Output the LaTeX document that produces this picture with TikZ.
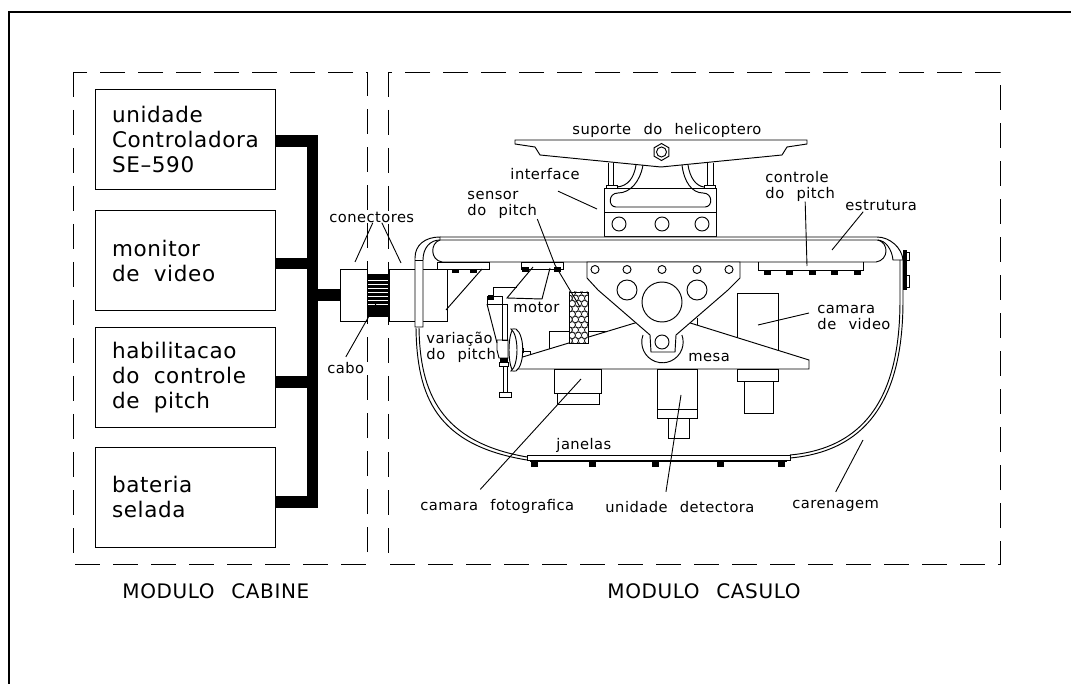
\documentclass[tikz,border=0pt]{standalone}
\usepackage{fontspec}
\setmainfont[WordSpace=1.2,LetterSpace=3]{DejaVu Sans}
\usetikzlibrary{arrows.meta, positioning, shapes.geometric, calc}

\begin{document}
\begin{tikzpicture}[
        x=1pt, y=-1pt,
        line width=0.95pt,
        node distance=21pt and 20pt,
        box/.style={draw, line width=0.8pt, minimum height=100pt, inner xsep=17pt, inner ysep=0pt, text width=146pt,
                    align=left, font=\fontsize{21.5}{25}\selectfont},
        conn/.style={draw, fill=white, minimum height=52pt, inner sep=0pt},
        lbl/.style={inner sep=0pt, anchor=west, align=left, font=\fontsize{14.7}{16}\selectfont},
        title/.style={inner sep=0pt, anchor=west, font=\fontsize{20}{23}\selectfont},
        module/.style={line width=0.75pt, dash pattern=on 25pt off 13pt},
        bus/.style={line width=11.5pt, miter limit=10},
        leader/.style={line width=0.9pt},
        part/.style={draw, fill=white},
        bolt/.style={draw, fill=black}
    ]
        \useasboundingbox (0,0) rectangle (1071,684);
        \draw[line width=2pt] (9,684) -- (9,12) -- (1071,12);

        % modules
        \draw[module] (73,72) rectangle (367,564);
        \draw[module] (388,72) rectangle (1000,564);

        % cabin units
        \node[box] (unidade) at (185,139) {unidade\\Controladora\\SE--590};
        \node[box] (monitor) [below=of unidade] {monitor\\de\ \ video};
        \node[box] (habilita) [below=16pt of monitor] {habilitacao\\do\ \ controle\\de\ \ pitch};
        \node[box] (bateria) [below=19pt of habilita] {bateria\\selada};

        % connectors and cable
        \node[conn, minimum width=27pt] (connL) at (353.5,295) {};
        \node[draw, fill=black, minimum width=21pt, minimum height=42pt, inner sep=0pt] (cable) [right=0pt of connL] {};
        \node[conn, minimum width=58pt] (connR) [right=0pt of cable] {};
        \foreach \y in {280,284,...,304}
            \draw[white, line width=0.4pt] (368,\y) -- (388,\y);

        \coordinate (busTop) at (312.5,141);
        \coordinate (busBot) at (312.5,502.5);
        \draw[bus] ([yshift=-2pt]unidade.east) -- (busTop) -- ([yshift=-4.5pt]bateria.east -| busTop) -- ([yshift=-4.5pt]bateria.east);
        \draw[bus] ([yshift=-2.5pt]monitor.east) -- ([yshift=-2.5pt]monitor.east -| busTop);
        \draw[bus] ([yshift=-4.5pt]habilita.east) -- ([yshift=-4.5pt]habilita.east -| busTop);
        \draw[bus] (busTop |- connL) -- (connL.west);

        % helicopter mount
        \draw (515,140) -- (807,140) -- (807,144) -- (787,147) -- (782,155) -- (661,167)
            -- (540,155) -- (535,147) -- (515,144) -- cycle;
        \node[draw, regular polygon, regular polygon sides=6, shape border rotate=30, minimum size=17pt, inner sep=0pt] (nut) at (661.5,152) {};
        \draw (nut.center) circle[radius=5];
        \draw (608,163) -- (608,186) (613,163) -- (613,186) (707,163) -- (707,186) (713,163) -- (713,186);
        \draw (606,185) rectangle (617,188);
        \draw (704,185) rectangle (715,188);
        \draw (604,188) rectangle (716,212);
        \draw (604,212) rectangle (716,236);
        \draw (636,165) .. controls (634,178) and (628,186) .. (617,187);
        \draw (688,165) .. controls (690,178) and (696,186) .. (704,187);
        \draw (643,165) .. controls (640,182) and (630,193) .. (618,193) .. controls (608,193) and (608,207) .. (616,207)
            -- (705,207) .. controls (713,207) and (713,193) .. (703,193) .. controls (692,193) and (684,182) .. (682,165);
        \foreach \x in {619,662,702}
            \draw (\x,224) circle[radius=7];

        % structure and fairing
        \draw[fill=white] (440,237) -- (877,237) .. controls (890,237) and (902,248) .. (903,260) -- (893,260)
            .. controls (892,250) and (886,240) .. (877,240) -- (440,240);
        \draw (878,240) .. controls (889,243) and (889,260) .. (876,262) -- (442,262)
            .. controls (430,260) and (430,243) .. (440,240);
        \draw (903,260) -- (903,300) .. controls (903,380) and (880,450) .. (790,458);
        \draw (900,260) -- (900,300) .. controls (900,378) and (878,447) .. (790,455);
        \draw (416,328) .. controls (417,395) and (435,445) .. (527,460);
        \draw (419,328) .. controls (420,392) and (440,442) .. (527,457);
        \draw[fill=white] (415,327) -- (415,258) .. controls (415,245) and (425,237) .. (440,237) -- (440,240)
            .. controls (430,240) and (423,248) .. (423,260) -- (423,327) -- cycle;
        \draw (415,260) -- (423,260);
        \draw[fill=black] (903,250) rectangle (906.5,289);
        \draw (906.5,252) rectangle (909,260) (906.5,275) rectangle (909,287);

        % plates and bolts
        \draw (437,262) rectangle (489,269);
        \draw (521,262) rectangle (563,269);
        \draw (758,262) -- (758,270) -- (863,270) -- (863,262);
        \foreach \x in {455,473.5}
            \draw[bolt] (\x-3,269) rectangle (\x+3,272.5);
        \foreach \x in {525.5,557.5}
            \draw[bolt] (\x-3,267) rectangle (\x+3,271);
        \foreach \x in {767,789,812,834,857}
            \draw[bolt] (\x-3,270) rectangle (\x+3,274);
        \draw (482,269) -- (446,310);

        % pitch mechanism
        \draw (533,267) -- (507,298) -- (542,299) -- (550,268);
        \draw (493,296) -- (493,287) -- (517,287);
        \draw (487,296) rectangle (502,304);
        \draw[bolt] (488,295) rectangle (493,299);
        \draw (502,304) rectangle (507,340);
        \draw (487,304) -- (497,343);
        \draw (497,340) -- (508,340) -- (508,358) -- (499,358) -- (497,350) -- cycle;
        \draw[bolt] (500,358) rectangle (507,362);
        \draw (499,362) rectangle (508,366);
        \draw (503,366) rectangle (507,392);
        \draw (499,392) rectangle (511,397);
        \draw (517,351) -- (530,351) -- (530,360);
        \draw[bolt] (517,348) rectangle (523,352);

        % table, cameras and detector
        \draw (549,349) -- (549,331) -- (609,331);
        \draw (737,345) -- (737,293) -- (778,293) -- (778,355);
        \draw (697,318) -- (697,326);
        \draw[part] (516,369) -- (516,359) -- (663,314.5) -- (809,360) -- (809,369) -- cycle;
        \draw[part] (514,350) ellipse[x radius=5, y radius=21];
        \draw[part] (516,329) .. controls (525,335) and (525,365) .. (516,371) -- (511,371) .. controls (519,365) and (519,335) .. (511,329) -- cycle;
        \draw[part] (569,292) rectangle (588,343);
        \begin{scope}
            \clip (569,292) rectangle (588,343);
            \foreach \i in {0,...,10}
                \foreach \j in {0,1,2,3}
                    \draw[line width=0.5pt] ({566+\j*6.2+mod(\i,2)*3.1},{293+\i*5.3}) circle[radius=3.1];
        \end{scope}
        \draw[fill=white] (643,335) arc[start angle=200, end angle=-20, radius=20.7];
        \draw[part] (587,262) -- (740,262) -- (740,278) -- (728,290) -- (676,335) -- (675,352) -- (651,352) -- (650,335) -- (598,290) -- (587,278) -- cycle;
        \foreach \x in {595,627,662,697,729}
            \draw (\x,269.5) circle[radius=4];
        \draw (627,290) circle[radius=10];
        \draw (697,290) circle[radius=10];
        \draw (662,302) circle[radius=20];
        \draw (662,342) circle[radius=7];
        \draw (554,369) rectangle (601,393);
        \draw (557,393) rectangle (599,404);
        \draw (657,369) rectangle (697,409);
        \draw (657,409) rectangle (697,418);
        \draw (668,418) rectangle (689,438);
        \draw (737,369) rectangle (778,381);
        \draw (744,381) rectangle (773,413);

        % windows
        \draw (527,455) rectangle (790,460);
        \draw[line width=1.6pt] (530,461) -- (787,461);
        \foreach \x in {534,592,655,720,781}
            \draw[bolt] (\x-3,462) rectangle (\x+3,466);

        % labels
        \node[lbl] (lblsup) at (572,130) {suporte\ \ do\ \ helicoptero};
        \node[lbl] (lblinter) at (510,174) {interface};
        \node[lbl] (lblcon) at (329,217) {conectores};
        \node[lbl] (lblsensor) at (467,205) {sensor\\do\ \ pitch};
        \node[lbl] (lblcontrole) at (765,186) {controle\\do\ \ pitch};
        \node[lbl] (lblestr) at (845,205) {estrutura};
        \node[lbl] (lblmotor) at (513,307) {motor};
        \node[lbl] (lblvideo) at (817,317) {camara\\de\ \ video};
        \node[lbl] (lblvar) at (426,347) {variação\\do\ \ pitch};
        \node[lbl] (lblmesa) at (688,357) {mesa};
        \node[lbl] (lblcabo) at (327,368) {cabo};
        \node[lbl] (lbljan) at (556,445) {janelas};
        \node[lbl] (lblfoto) at (420,506) {camara\ \ fotografica};
        \node[lbl] (lbldet) at (605,507) {unidade\ \ detectora};
        \node[lbl] (lblcar) at (792,506) {carenagem};
        \node[title] (lblcab) at (122,591) {MODULO\ \ CABINE};
        \node[title] (lblcas) at (607,591) {MODULO\ \ CASULO};

        % leaders
        \coordinate (ldConL) at (355,262);
        \coordinate (ldConR) at (401,263);
        \coordinate (ldCabo) at (377,302);
        \coordinate (ldSensor) at (555,265);
        \coordinate (ldInter) at (597,209);
        \coordinate (ldCtrl) at (807,266);
        \coordinate (ldEstr) at (832,250);
        \coordinate (ldVideo) at (758,325);
        \coordinate (ldFoto) at (581,379);
        \coordinate (ldDet) at (681,395);
        \coordinate (ldCar) at (863,440);
        \coordinate (ldSpring) at (580,307);
        \draw[leader] ([xshift=1pt]lblcon.south) -- (ldConL);
        \draw[leader] ([xshift=10pt]lblcon.south) -- (ldConR);
        \draw[leader] ([yshift=5pt]lblcabo.north) -- (ldCabo);
        \draw[leader] (lblsensor.south east) -- (ldSensor);
        \draw[leader] ([xshift=13pt,yshift=-11pt]lblinter.south) -- (ldInter);
        \draw[leader] ([xshift=5pt]lblcontrole.south) -- (ldCtrl);
        \draw[leader] ([xshift=-18pt,yshift=-1pt]lblestr.south) -- (ldEstr);
        \draw[leader] ([xshift=-8pt,yshift=4pt]lblvideo.west) -- (ldVideo);
        \draw[leader] ([xshift=-17pt,yshift=9pt]lblfoto.north) -- (ldFoto);
        \draw[leader] ([xshift=-14pt,yshift=9pt]lbldet.north) -- (ldDet);
        \draw[leader] ([yshift=8pt]lblcar.north) -- (ldCar);
        \draw[leader] (ldSensor) -- (ldSpring);
\end{tikzpicture}
\end{document}
